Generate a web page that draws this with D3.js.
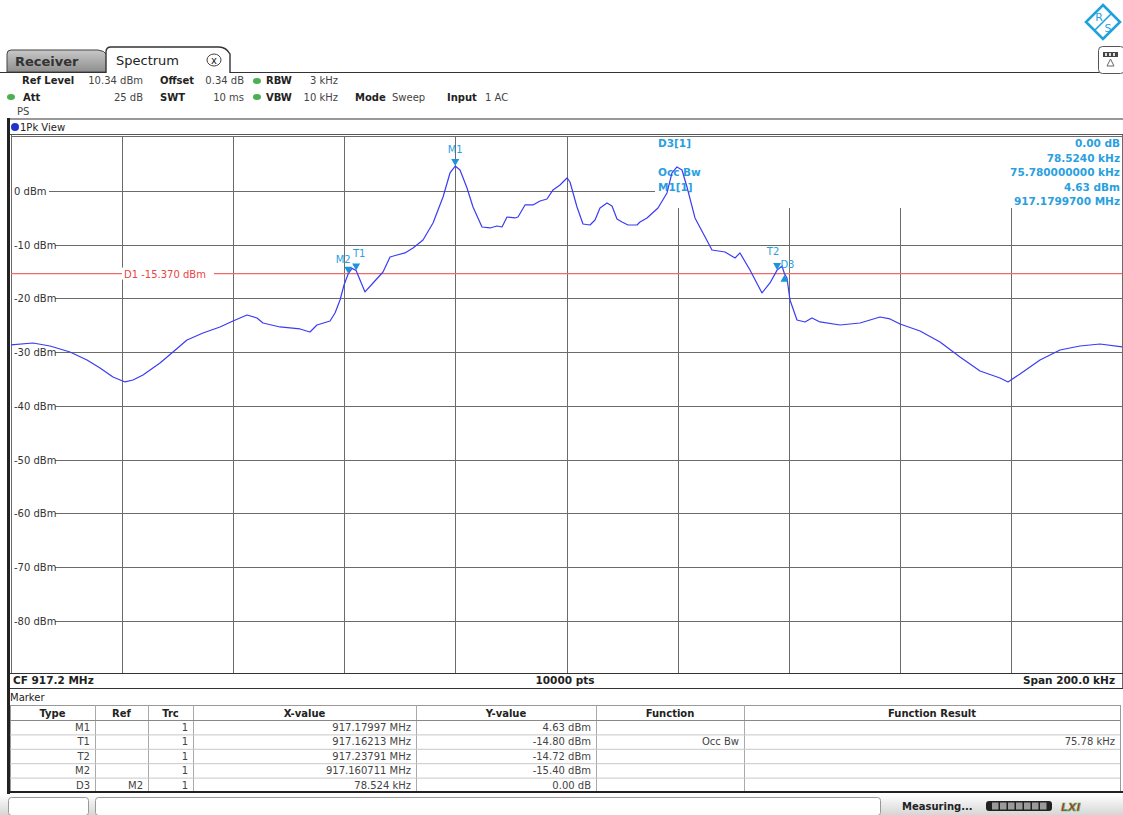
<!DOCTYPE html>
<html><head><meta charset="utf-8">
<script src="https://cdn.jsdelivr.net/npm/d3@7"></script>
<style>
html,body{margin:0;padding:0;background:#fff;}
svg{display:block;font-family:"DejaVu Sans",Verdana,sans-serif;}
</style></head><body>
<svg id="chart" width="1123" height="815"></svg>
<script>
// ---- Trace 1 (1Pk View), CF 917.2 MHz, span 200 kHz ----
const traceFreqMHz = [
  917.10000, 917.10396, 917.10702, 917.11062, 917.11368, 917.11602, 917.11836, 917.12052, 917.12196, 917.12376,
  917.12682, 917.12916, 917.13168, 917.13456, 917.13762, 917.13996, 917.14248, 917.14428, 917.14536, 917.14842,
  917.15202, 917.15382, 917.15508, 917.15743, 917.15833, 917.15923, 917.15995, 917.16071, 917.16139, 917.16213,
  917.16283, 917.16373, 917.16517, 917.16697, 917.16823, 917.16949, 917.17093, 917.17237, 917.17417, 917.17597,
  917.17777, 917.17903, 917.17997, 917.18083, 917.18209, 917.18317, 917.18479, 917.18623, 917.18749, 917.18839,
  917.18929, 917.19073, 917.19127, 917.19253, 917.19397, 917.19523, 917.19649, 917.19757, 917.19883, 917.20009,
  917.20063, 917.20189, 917.20297, 917.20423, 917.20513, 917.20603, 917.20729, 917.20819, 917.20909, 917.20999,
  917.21107, 917.21269, 917.21323, 917.21449, 917.21647, 917.21809, 917.21899, 917.21989, 917.22079, 917.22169,
  917.22313, 917.22457, 917.22619, 917.22853, 917.23033, 917.23123, 917.23303, 917.23519, 917.23663, 917.23791,
  917.23879, 917.23924, 917.23969, 917.24023, 917.24149, 917.24293, 917.24419, 917.24563, 917.24924, 917.25284,
  917.25644, 917.25824, 917.26004, 917.26364, 917.26724, 917.27084, 917.27444, 917.27804, 917.27948, 917.28164,
  917.28524, 917.28884, 917.29244, 917.29604, 917.30000
];
const traceLevelDbm = [
  -28.65, -28.28, -28.84, -29.95, -31.44, -32.93, -34.60, -35.53, -35.16, -34.23,
  -32.00, -29.95, -27.72, -26.42, -25.30, -24.19, -23.07, -23.63, -24.56, -25.30,
  -25.67, -26.23, -24.93, -24.19, -22.70, -20.28, -17.49, -15.40, -14.40, -14.80,
  -16.56, -18.79, -17.12, -15.07, -12.28, -11.91, -11.53, -10.60, -9.12, -5.95,
  -1.12, 3.35, 4.63, 3.91, 0.56, -2.98, -6.70, -6.88, -6.51, -6.70,
  -4.84, -5.02, -4.84, -2.60, -2.60, -1.86, -1.49, 0.19, 1.12, 2.42,
  1.67, -2.98, -6.14, -6.33, -5.40, -3.16, -2.23, -2.79, -5.21, -5.77,
  -6.33, -6.33, -5.77, -5.02, -3.16, -0.37, 3.35, 4.47, 3.91, 0.74,
  -5.02, -7.81, -10.98, -11.35, -12.47, -11.53, -14.70, -18.98, -17.12, -14.72,
  -13.95, -15.40, -16.20, -20.28, -24.00, -24.37, -23.63, -24.37, -24.93, -24.56,
  -23.44, -23.81, -24.74, -26.05, -28.09, -30.88, -33.49, -34.79, -35.53, -34.05,
  -31.44, -29.58, -28.84, -28.47, -29.02
];

// ---- Axis settings ----
const refLevelDbm = 10.34;
const rangeDb = 100;
const startFreqMHz = 917.1, stopFreqMHz = 917.3;
const yTickValues = [0, -10, -20, -30, -40, -50, -60, -70, -80];
const xGridFreqMHz = [917.12, 917.14, 917.16, 917.18, 917.20, 917.22, 917.24, 917.26, 917.28];
const displayLineDbm = -15.37;

// ---- Markers ----
const markerNames = ["M1", "T1", "T2", "M2", "D3"];
const markerFreqMHz = [917.17997, 917.16213, 917.23791, 917.160711, 917.239235];
const markerLevelDbm = [4.63, -14.80, -14.72, -15.40, -15.40];

// ---- Marker table ----
const tableHeaders = ["Type", "Ref", "Trc", "X-value", "Y-value", "Function", "Function Result"];
const tableTypes = ["M1", "T1", "T2", "M2", "D3"];
const tableRefs = ["", "", "", "", "M2"];
const tableTrc = ["1", "1", "1", "1", "1"];
const tableX = ["917.17997 MHz", "917.16213 MHz", "917.23791 MHz", "917.160711 MHz", "78.524 kHz"];
const tableY = ["4.63 dBm", "-14.80 dBm", "-14.72 dBm", "-15.40 dBm", "0.00 dB"];
const tableFunc = ["", "Occ Bw", "", "", ""];
const tableResult = ["", "75.78 kHz", "", "", ""];

// ---- Marker info field ----
const infoLabels = ["D3[1]", "", "Occ Bw", "M1[1]", ""];
const infoValues = ["0.00 dB", "78.5240 kHz", "75.780000000 kHz", "4.63 dBm", "917.1799700 MHz"];

const svg = d3.select("#chart");
const W = 1123, H = 815;
const C = {
  grid: "#6b6b6b", frame: "#3a3a3a", trace: "#3b3bf5", marker: "#1c94da",
  markerText: "#2a9fe0", red: "#f06a6a", text: "#222"
};

svg.append("rect").attr("width", W).attr("height", H).attr("fill", "#fff");

// ---------- top bar: tabs and logo ----------
const defs = svg.append("defs");
const g1 = defs.append("linearGradient").attr("id", "tabGrad").attr("x1", 0).attr("y1", 0).attr("x2", 0).attr("y2", 1);
g1.append("stop").attr("offset", "0%").attr("stop-color", "#c8c8c8");
g1.append("stop").attr("offset", "100%").attr("stop-color", "#8e8e8e");
const g2 = defs.append("linearGradient").attr("id", "statusGrad").attr("x1", 0).attr("y1", 0).attr("x2", 0).attr("y2", 1);
g2.append("stop").attr("offset", "0%").attr("stop-color", "#ffffff");
g2.append("stop").attr("offset", "100%").attr("stop-color", "#d6d6d6");

const tabPath = (x0, x1, yTop, yBot, r) =>
  `M${x0},${yBot} L${x0},${yTop + r} Q${x0},${yTop} ${x0 + r},${yTop} L${x1 - r - 6},${yTop} Q${x1 - 4},${yTop} ${x1},${yTop + r + 2} L${x1},${yBot}`;

svg.append("path").attr("d", tabPath(7, 108, 50, 72, 4) + " Z")
  .attr("fill", "url(#tabGrad)").attr("stroke", "#444").attr("stroke-width", 1);
svg.append("text").attr("x", 15).attr("y", 66).attr("font-size", 13).attr("font-weight", "bold")
  .attr("fill", "#333").text("Receiver");

svg.append("path").attr("d", tabPath(106, 230, 47, 73, 5))
  .attr("fill", "#fff").attr("stroke", "#333").attr("stroke-width", 1.4);
svg.append("text").attr("x", 116).attr("y", 65).attr("font-size", 13)
  .attr("fill", "#222").text("Spectrum");
svg.append("ellipse").attr("cx", 214).attr("cy", 60).attr("rx", 7).attr("ry", 6)
  .attr("fill", "#fff").attr("stroke", "#444").attr("stroke-width", 1);
svg.append("text").attr("x", 214).attr("y", 64).attr("font-size", 10).attr("text-anchor", "middle")
  .attr("fill", "#222").text("x");

svg.append("line").attr("x1", 0).attr("x2", 106).attr("y1", 72.5).attr("y2", 72.5).attr("stroke", "#333");
svg.append("line").attr("x1", 230).attr("x2", 1123).attr("y1", 72.5).attr("y2", 72.5).attr("stroke", "#333").attr("stroke-width", 1.2);

// brand mark
const logo = svg.append("g").attr("transform", "translate(1103,22)");
logo.append("path").attr("d", "M0,-17 L17,0 L0,17 L-17,0 Z").attr("fill", "#fff")
  .attr("stroke", "#1fa2dc").attr("stroke-width", 2.6);
logo.append("line").attr("x1", -8).attr("y1", 8).attr("x2", 8).attr("y2", -8).attr("stroke", "#1fa2dc").attr("stroke-width", 1.6);
logo.append("text").attr("x", -4).attr("y", -1).attr("font-size", 11).attr("fill", "#1fa2dc")
  .attr("text-anchor", "middle").text("R");
logo.append("text").attr("x", 5).attr("y", 10).attr("font-size", 11).attr("fill", "#1fa2dc")
  .attr("text-anchor", "middle").text("S");

// small status icon box
svg.append("rect").attr("x", 1098.5).attr("y", 46.5).attr("width", 26).attr("height", 27).attr("rx", 4)
  .attr("fill", "#fff").attr("stroke", "#555");
svg.append("rect").attr("x", 1103).attr("y", 52).attr("width", 15).attr("height", 5).attr("fill", "#444");
[1105, 1109, 1113].forEach(x => svg.append("rect").attr("x", x).attr("y", 53).attr("width", 2).attr("height", 3).attr("fill", "#ddd"));
svg.append("path").attr("d", "M1110.5,59 L1114,66 L1107,66 Z").attr("fill", "#fff").attr("stroke", "#666");

// ---------- settings header ----------
const hdr = svg.append("g").attr("font-size", 10).attr("fill", C.text);
const hText = (x, y, s, bold, anchor) => hdr.append("text").attr("x", x).attr("y", y)
  .attr("font-weight", bold ? "bold" : "normal").attr("text-anchor", anchor || "start").text(s);
const greenDot = (x, y) => hdr.append("ellipse").attr("cx", x).attr("cy", y).attr("rx", 4).attr("ry", 3).attr("fill", "#4caf50");
hText(22, 84, "Ref Level", true);
hText(143, 84, "10.34 dBm", false, "end").attr("fill", "#444");
hText(160, 84, "Offset", true);
hText(244, 84, "0.34 dB", false, "end").attr("fill", "#444");
greenDot(257, 81);
hText(266, 84, "RBW", true);
hText(338, 84, "3 kHz", false, "end").attr("fill", "#444");
greenDot(11, 97);
hText(23, 101, "Att", true);
hText(143, 101, "25 dB", false, "end").attr("fill", "#444");
hText(160, 101, "SWT", true);
hText(244, 101, "10 ms", false, "end").attr("fill", "#444");
greenDot(257, 97);
hText(266, 101, "VBW", true);
hText(338, 101, "10 kHz", false, "end").attr("fill", "#444");
hText(355, 101, "Mode", true);
hText(392, 101, "Sweep", false).attr("fill", "#444");
hText(447, 101, "Input", true);
hText(485, 101, "1 AC", false).attr("fill", "#444");
hText(17, 115, "PS", false).attr("fill", "#444");

// ---------- diagram frame ----------
const x = d3.scaleLinear().domain([startFreqMHz, stopFreqMHz]).range([11, 1122]);
const y = d3.scaleLinear().domain([refLevelDbm - rangeDb, refLevelDbm]).range([672.9, 135.4]);

svg.append("rect").attr("x", 7).attr("y", 118).attr("width", 3).attr("height", 676).attr("fill", "#222");
svg.append("line").attr("x1", 10).attr("x2", 1123).attr("y1", 119).attr("y2", 119).attr("stroke", "#333");
svg.append("line").attr("x1", 10).attr("x2", 1123).attr("y1", 134.5).attr("y2", 134.5).attr("stroke", "#555");
svg.append("circle").attr("cx", 15).attr("cy", 127).attr("r", 4).attr("fill", "#2233cc");
svg.append("text").attr("x", 20).attr("y", 131).attr("font-size", 10).attr("fill", C.text).text("1Pk View");

const plot = svg.append("g");
plot.append("line").attr("x1", 11).attr("x2", 1122).attr("y1", 136.5).attr("y2", 136.5).attr("stroke", C.grid);
plot.append("line").attr("x1", 11.5).attr("x2", 11.5).attr("y1", 135).attr("y2", 673).attr("stroke", C.grid);
plot.append("line").attr("x1", 1122.5).attr("x2", 1122.5).attr("y1", 135).attr("y2", 688).attr("stroke", C.grid);

// vertical grid
plot.selectAll("line.vg").data(xGridFreqMHz).join("line").attr("class", "vg")
  .attr("x1", d => Math.round(x(d)) + 0.5).attr("x2", d => Math.round(x(d)) + 0.5)
  .attr("y1", 136).attr("y2", 673).attr("stroke", C.grid).attr("stroke-width", 1);

// horizontal grid with inline level labels
const hg = plot.selectAll("g.hg").data(yTickValues).join("g").attr("class", "hg");
hg.append("line").attr("x1", 11).attr("x2", 1122)
  .attr("y1", d => Math.round(y(d)) + 0.5).attr("y2", d => Math.round(y(d)) + 0.5)
  .attr("stroke", C.grid);
hg.append("rect").attr("x", 12).attr("y", d => y(d) - 7).attr("width", d => d === 0 ? 37 : 43)
  .attr("height", 13).attr("fill", "#fff");
hg.append("text").attr("x", 14).attr("y", d => y(d) + 4).attr("font-size", 10).attr("fill", "#333")
  .text(d => `${d} dBm`);

// marker info field covers the grid at top right
plot.append("rect").attr("x", 655).attr("y", 137).attr("width", 467).attr("height", 71).attr("fill", "#fff");

// display line D1
plot.append("line").attr("x1", 11).attr("x2", 1122)
  .attr("y1", y(displayLineDbm)).attr("y2", y(displayLineDbm))
  .attr("stroke", C.red).attr("stroke-width", 1.2);
plot.append("rect").attr("x", 122).attr("y", y(displayLineDbm) - 6).attr("width", 92).attr("height", 12).attr("fill", "#fff");
plot.append("text").attr("x", 124).attr("y", y(displayLineDbm) + 4).attr("font-size", 10)
  .attr("fill", "#e84545").text(`D1  ${displayLineDbm.toFixed(3)} dBm`);

// marker info field text
const info = plot.append("g").attr("font-size", 10.5).attr("font-weight", "bold").attr("fill", C.markerText);
infoLabels.forEach((s, i) => { if (s) info.append("text").attr("x", 658).attr("y", 147 + i * 14.6).text(s); });
infoValues.forEach((s, i) => info.append("text").attr("x", 1120).attr("y", 147 + i * 14.6).attr("text-anchor", "end").text(s));

// trace
const tracePts = traceFreqMHz.map((f, i) => [f, traceLevelDbm[i]]);
plot.append("path").datum(tracePts)
  .attr("d", d3.line().x(d => x(d[0])).y(d => y(d[1])))
  .attr("fill", "none").attr("stroke", C.trace).attr("stroke-width", 1.2).attr("stroke-linejoin", "round");

// markers
const labelOffset = { M1: [0, -13], T1: [3, -14], T2: [-4, -15], M2: [-5, -11], D3: [3, -6] };
markerNames.forEach((name, i) => {
  const mx = x(markerFreqMHz[i]), my = y(markerLevelDbm[i]);
  if (name === "D3") {
    plot.append("path").attr("d", `M${mx},${my + 1} L${mx + 4},${my + 8} L${mx - 4},${my + 8} Z`).attr("fill", C.marker);
  } else {
    plot.append("path").attr("d", `M${mx},${my} L${mx + 4},${my - 7} L${mx - 4},${my - 7} Z`).attr("fill", C.marker);
  }
  const [dx, dy] = labelOffset[name];
  plot.append("text").attr("x", mx + dx).attr("y", my + dy).attr("text-anchor", "middle")
    .attr("font-size", 10).attr("fill", C.markerText).text(name);
});

// footer of the diagram
svg.append("line").attr("x1", 10).attr("x2", 1123).attr("y1", 673.5).attr("y2", 673.5).attr("stroke", "#333");
svg.append("line").attr("x1", 10).attr("x2", 1123).attr("y1", 688.5).attr("y2", 688.5).attr("stroke", "#333");
const foot = svg.append("g").attr("font-size", 10.5).attr("font-weight", "bold").attr("fill", "#222");
foot.append("text").attr("x", 13).attr("y", 684).text(`CF ${((startFreqMHz + stopFreqMHz) / 2).toFixed(1)} MHz`);
foot.append("text").attr("x", 565).attr("y", 684).attr("text-anchor", "middle").text("10000 pts");
foot.append("text").attr("x", 1115).attr("y", 684).attr("text-anchor", "end")
  .text(`Span ${((stopFreqMHz - startFreqMHz) * 1000).toFixed(1)} kHz`);

// ---------- marker table ----------
svg.append("text").attr("x", 10).attr("y", 701).attr("font-size", 10).attr("fill", "#222").text("Marker");
const colEdges = [10, 95, 148, 193, 416, 596, 744, 1120];
const rowTop = 705, headH = 15, rowH = 14.4;
const tbl = svg.append("g").attr("font-size", 10);
tbl.append("rect").attr("x", 10.5).attr("y", rowTop + 0.5).attr("width", 1110).attr("height", headH + rowH * 5)
  .attr("fill", "#fff").attr("stroke", "#999");
colEdges.slice(1, -1).forEach(cx => tbl.append("line").attr("x1", cx + 0.5).attr("x2", cx + 0.5)
  .attr("y1", rowTop).attr("y2", rowTop + headH + rowH * 5).attr("stroke", "#aaa"));
d3.range(6).forEach(r => tbl.append("line").attr("x1", 10).attr("x2", 1120)
  .attr("y1", rowTop + headH + r * rowH + 0.5).attr("y2", rowTop + headH + r * rowH + 0.5).attr("stroke", r === 0 ? "#888" : "#c8c8c8"));
tableHeaders.forEach((h, c) => tbl.append("text").attr("x", (colEdges[c] + colEdges[c + 1]) / 2).attr("y", rowTop + 12)
  .attr("text-anchor", "middle").attr("font-weight", "bold").attr("fill", "#222").text(h));
const cols = [tableTypes, tableRefs, tableTrc, tableX, tableY, tableFunc, tableResult];
cols.forEach((col, c) => col.forEach((s, r) => {
  if (!s) return;
  tbl.append("text").attr("x", colEdges[c + 1] - 5).attr("y", rowTop + headH + r * rowH + 11)
    .attr("text-anchor", "end").attr("fill", "#444").text(s);
}));
svg.append("line").attr("x1", 7).attr("x2", 1123).attr("y1", 792).attr("y2", 792).attr("stroke", "#222").attr("stroke-width", 2);

// ---------- status bar ----------
svg.append("rect").attr("x", 0).attr("y", 794).attr("width", W).attr("height", 21).attr("fill", "url(#statusGrad)");
svg.append("rect").attr("x", 8.5).attr("y", 797.5).attr("width", 80).attr("height", 18).attr("rx", 3)
  .attr("fill", "#fff").attr("stroke", "#999");
svg.append("rect").attr("x", 95.5).attr("y", 797.5).attr("width", 785).attr("height", 18).attr("rx", 3)
  .attr("fill", "#fff").attr("stroke", "#999");
svg.append("text").attr("x", 902).attr("y", 810).attr("font-size", 10).attr("font-weight", "bold")
  .attr("fill", "#222").text("Measuring...");
svg.append("rect").attr("x", 986).attr("y", 801).attr("width", 66).attr("height", 10).attr("rx", 3).attr("fill", "#222");
d3.range(7).forEach(k => svg.append("rect").attr("x", 992 + k * 8).attr("y", 802.5).attr("width", 6.5).attr("height", 7).attr("fill", "#9a9a9a"));
svg.append("text").attr("x", 1061).attr("y", 811).attr("font-size", 11).attr("font-weight", "bold")
  .attr("font-style", "italic").attr("fill", "#b8283a").attr("stroke", "#48b848").attr("stroke-width", 0.6).text("LXI");
</script>
</body></html>
